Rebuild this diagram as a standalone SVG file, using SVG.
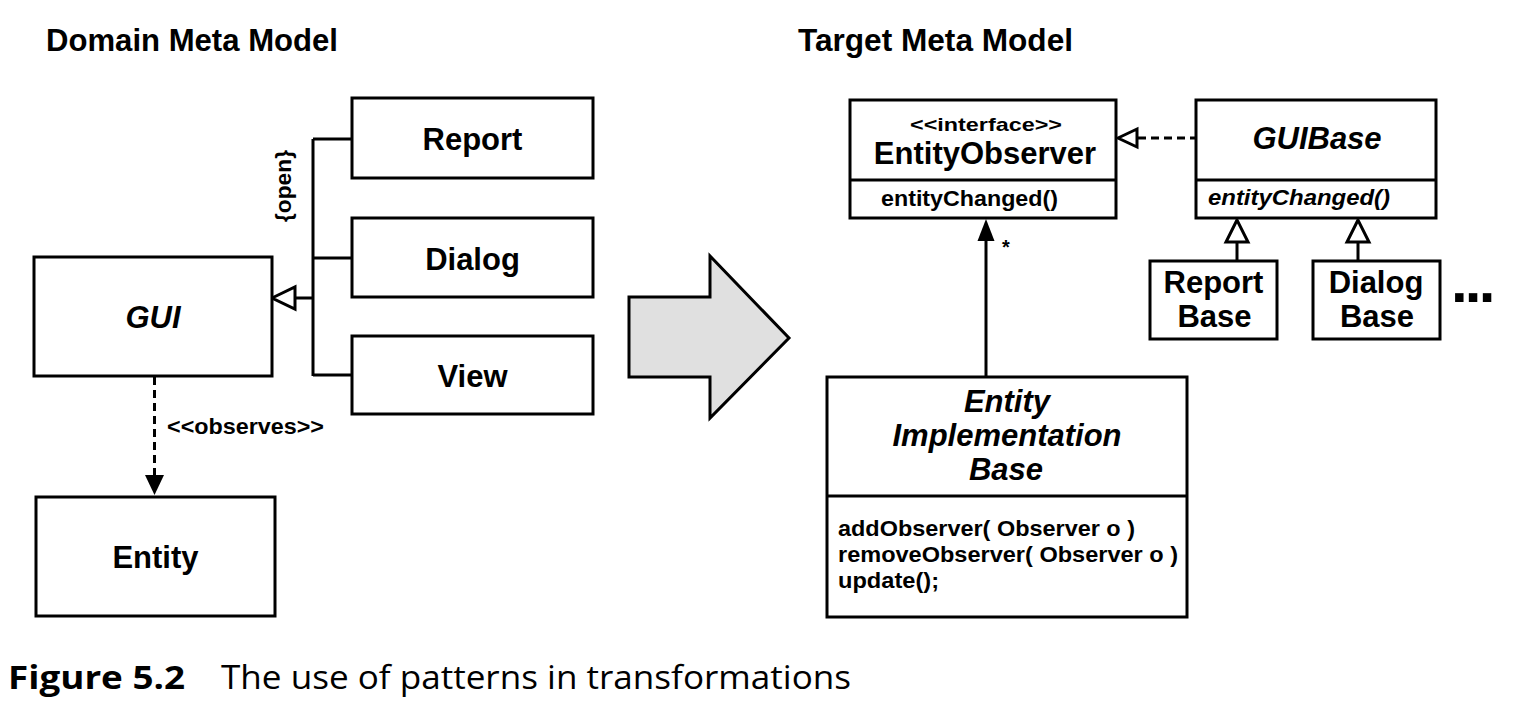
<svg xmlns="http://www.w3.org/2000/svg" width="1520" height="706" viewBox="0 0 1520 706">
<style>
.bg{fill:#fff}
.box{fill:#fff;stroke:#000;stroke-width:3}
.ln{fill:none;stroke:#000;stroke-width:3}
.dash{fill:none;stroke:#000;stroke-width:3;stroke-dasharray:8 5}
.hollow{fill:#fff;stroke:#000;stroke-width:3;stroke-linejoin:miter}
.solid{fill:#000;stroke:none}
text{font-family:"Liberation Sans",Arial,Helvetica,sans-serif;font-weight:bold;fill:#000}
.big{font-size:31px}
.title{font-size:31px}
.sm{font-size:22px}
.it{font-style:italic}
.mid{text-anchor:middle}
.cap{font-family:"Open Sans","Noto Sans","Liberation Sans",sans-serif;font-size:33px}
.capb{font-weight:bold}
.capn{font-weight:normal}
</style>
<rect class="bg" x="0" y="0" width="1520" height="706"/>

<g id="titles">
<text class="title" x="46" y="51" textLength="292" lengthAdjust="spacingAndGlyphs">Domain Meta Model</text>
<text class="title" x="798" y="51" textLength="275" lengthAdjust="spacingAndGlyphs">Target Meta Model</text>
</g>

<g id="connectors">
<path class="ln" d="M313,139 V376 M313,139 H352 M313,258 H352 M313,375 H352 M295,298 H313"/>
<polygon class="hollow" points="272,298 295,287 295,309"/>
<line class="dash" x1="154.5" y1="377" x2="154.5" y2="477"/>
<polygon class="solid" points="154.5,495 145,475 164,475"/>
<line class="dash" x1="1138" y1="138" x2="1196" y2="138"/>
<polygon class="hollow" points="1118,138 1137,129 1137,147"/>
<line class="ln" x1="986" y1="377" x2="986" y2="238"/>
<polygon class="solid" points="986,219 977.5,241 994.5,241"/>
<line class="ln" x1="1237" y1="261" x2="1237" y2="242"/>
<polygon class="hollow" points="1237,220 1226,242 1248,242"/>
<line class="ln" x1="1358" y1="261" x2="1358" y2="242"/>
<polygon class="hollow" points="1358,220 1347,242 1369,242"/>
<text class="sm" x="167" y="434" textLength="157" lengthAdjust="spacingAndGlyphs">&lt;&lt;observes&gt;&gt;</text>
<text class="sm mid" transform="translate(284,186) rotate(-90)" x="0" y="7" textLength="72" lengthAdjust="spacingAndGlyphs">{open}</text>
<text x="1002" y="254" style="font-size:20px">*</text>
</g>

<g id="GUI">
<rect class="box" x="34" y="257" width="238" height="119"/>
<text class="big it mid" x="153" y="328">GUI</text>
</g>
<g id="Report">
<rect class="box" x="352" y="98" width="241" height="80"/>
<text class="big mid" x="472.5" y="150">Report</text>
</g>
<g id="Dialog">
<rect class="box" x="352" y="218" width="241" height="79"/>
<text class="big mid" x="472.5" y="270">Dialog</text>
</g>
<g id="View">
<rect class="box" x="352" y="336" width="241" height="78"/>
<text class="big mid" x="472.5" y="387">View</text>
</g>
<g id="Entity">
<rect class="box" x="36" y="497" width="239" height="119"/>
<text class="big mid" x="155.5" y="568">Entity</text>
</g>

<g id="transformArrow">
<polygon points="629,297 710,297 710,256 789,338 710,418 710,377 629,377" fill="#e0e0e0" stroke="#000" stroke-width="3"/>
</g>

<g id="EntityObserver">
<rect class="box" x="850" y="100" width="266" height="118"/>
<line class="ln" x1="850" y1="180" x2="1116" y2="180"/>
<text class="mid" x="986" y="131" style="font-size:19px" textLength="152" lengthAdjust="spacingAndGlyphs">&lt;&lt;interface&gt;&gt;</text>
<text class="big mid" x="985" y="164">EntityObserver</text>
<text class="sm" x="881" y="206" textLength="177" lengthAdjust="spacingAndGlyphs">entityChanged()</text>
</g>

<g id="GUIBase">
<rect class="box" x="1196" y="100" width="240" height="118"/>
<line class="ln" x1="1196" y1="180" x2="1436" y2="180"/>
<text class="big it mid" x="1317" y="149">GUIBase</text>
<text class="sm it" x="1208" y="205" textLength="182" lengthAdjust="spacingAndGlyphs">entityChanged()</text>
</g>

<g id="ReportBase">
<rect class="box" x="1150" y="261" width="127" height="78"/>
<text class="big mid" x="1213.5" y="293">Report</text>
<text class="big mid" x="1214.5" y="327">Base</text>
</g>

<g id="DialogBase">
<rect class="box" x="1313" y="261" width="127" height="78"/>
<text class="big mid" x="1376" y="293">Dialog</text>
<text class="big mid" x="1377" y="327">Base</text>
</g>

<g id="ellipsis">
<text x="1451" y="302" style="font-size:60px;letter-spacing:-2.8px">...</text>
</g>

<g id="EntityImplementationBase">
<rect class="box" x="827" y="377" width="360" height="240"/>
<line class="ln" x1="827" y1="496" x2="1187" y2="496"/>
<text class="big it mid" x="1007" y="412">Entity</text>
<text class="big it mid" x="1007" y="446" textLength="229" lengthAdjust="spacingAndGlyphs">Implementation</text>
<text class="big it mid" x="1006" y="480">Base</text>
<text class="sm" x="838" y="536" textLength="297" lengthAdjust="spacingAndGlyphs">addObserver( Observer o )</text>
<text class="sm" x="838" y="562" textLength="340" lengthAdjust="spacingAndGlyphs">removeObserver( Observer o )</text>
<text class="sm" x="838" y="588" textLength="101" lengthAdjust="spacingAndGlyphs">update();</text>
</g>

<g id="caption">
<text class="cap capb" x="8" y="689" textLength="177" lengthAdjust="spacingAndGlyphs">Figure 5.2</text>
<text class="cap capn" x="221" y="689" textLength="630" lengthAdjust="spacingAndGlyphs">The use of patterns in transformations</text>
</g>
</svg>
